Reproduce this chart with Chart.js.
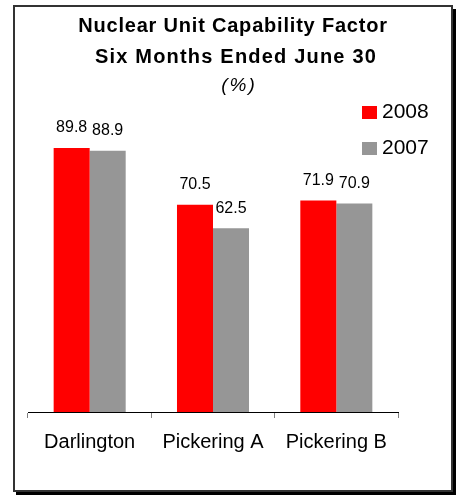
<!DOCTYPE html>
<html><head><meta charset="utf-8">
<script src="https://cdn.jsdelivr.net/npm/chart.js@4.4.1/dist/chart.umd.min.js"></script>
<style>html,body{margin:0;padding:0;background:#fff;overflow:hidden}canvas{display:block}</style>
</head><body>
<canvas id="c" width="457" height="495"></canvas>
<script>
const categories = ['Darlington', 'Pickering A', 'Pickering B'];
const values2008 = [89.8, 70.5, 71.9];
const values2007 = [88.9, 62.5, 70.9];
const seriesLabels = ['2008', '2007'];
const titleLines = ['Nuclear Unit Capability Factor', 'Six Months Ended June 30'];
const subtitleText = '(%)';

const FONT = '"Liberation Sans", Arial, Helvetica, sans-serif';

const framePlugin = {
  id: 'frame',
  beforeDraw(chart) {
    const ctx = chart.ctx;
    ctx.save();
    ctx.fillStyle = '#000';
    ctx.fillRect(16, 9, 440, 486);
    ctx.fillStyle = '#fff';
    ctx.fillRect(13, 5, 440, 487);
    ctx.strokeStyle = '#333';
    ctx.lineWidth = 2;
    ctx.strokeRect(14, 6, 438, 485);
    ctx.restore();
  }
};

const titlePlugin = {
  id: 'customTitle',
  afterDraw(chart) {
    const ctx = chart.ctx;
    ctx.save();
    ctx.fillStyle = '#000';
    ctx.textAlign = 'center';
    ctx.textBaseline = 'alphabetic';
    ctx.font = 'bold 20px ' + FONT;
    if ('letterSpacing' in ctx) ctx.letterSpacing = '0.8px';
    ctx.fillText(titleLines[0], 233, 32);
    if ('letterSpacing' in ctx) ctx.letterSpacing = '1.2px';
    ctx.fillText(titleLines[1], 236, 63);
    ctx.font = 'italic 19px ' + FONT;
    if ('letterSpacing' in ctx) ctx.letterSpacing = '2px';
    ctx.fillText(subtitleText, 239, 91);
    if ('letterSpacing' in ctx) ctx.letterSpacing = '0px';
    ctx.restore();
  }
};

const legendPlugin = {
  id: 'customLegend',
  afterDraw(chart) {
    const ctx = chart.ctx;
    ctx.save();
    ctx.font = '21px ' + FONT;
    ctx.textAlign = 'left';
    ctx.textBaseline = 'alphabetic';
    chart.data.datasets.forEach((ds, i) => {
      ctx.fillStyle = ds.backgroundColor;
      ctx.fillRect(362, 106 + i * 36, 15, 13);
      ctx.fillStyle = '#000';
      ctx.fillText(ds.label, 382, 118 + i * 36);
    });
    ctx.restore();
  }
};

const valueLabelPlugin = {
  id: 'valueLabels',
  afterDatasetsDraw(chart) {
    const ctx = chart.ctx;
    ctx.save();
    ctx.font = '16px ' + FONT;
    ctx.fillStyle = '#000';
    ctx.textAlign = 'center';
    ctx.textBaseline = 'middle';
    chart.data.datasets.forEach((ds, di) => {
      const meta = chart.getDatasetMeta(di);
      meta.data.forEach((el, i) => {
        ctx.fillText(ds.data[i].toFixed(1), el.x, el.y - 20);
      });
    });
    ctx.restore();
  }
};

new Chart(document.getElementById('c'), {
  type: 'bar',
  data: {
    labels: categories,
    datasets: [
      { label: seriesLabels[0], data: values2008, backgroundColor: '#FF0000', borderWidth: 0 },
      { label: seriesLabels[1], data: values2007, backgroundColor: '#969696', borderWidth: 0 }
    ]
  },
  options: {
    responsive: false,
    animation: false,
    devicePixelRatio: 1,
    categoryPercentage: 0.584,
    barPercentage: 1.0,
    layout: { padding: { left: 28, right: 59, top: 118, bottom: 29 } },
    plugins: {
      legend: { display: false },
      title: { display: false },
      tooltip: { enabled: false }
    },
    scales: {
      x: {
        grid: { display: true, drawOnChartArea: false, drawTicks: true, tickLength: 6, color: '#808080', offset: true },
        border: { display: true, color: '#000', width: 1 },
        ticks: { color: '#000', font: { size: 20, family: FONT }, padding: 12, maxRotation: 0, autoSkip: false }
      },
      y: { display: false, min: 0, max: 100 }
    }
  },
  plugins: [framePlugin, valueLabelPlugin, titlePlugin, legendPlugin]
});
</script>
</body></html>
